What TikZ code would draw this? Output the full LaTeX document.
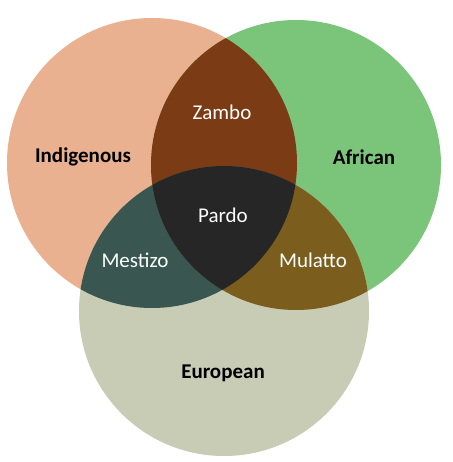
\documentclass[tikz,border=0pt]{standalone}
\usepackage{fontspec}
\setmainfont{Carlito}
\definecolor{cInd}{HTML}{E9B190}
\definecolor{cAfr}{HTML}{7BC57A}
\definecolor{cEur}{HTML}{C8CCB4}
\definecolor{cZam}{HTML}{7B3B14}
\definecolor{cMes}{HTML}{395750}
\definecolor{cMul}{HTML}{7B5E1E}
\definecolor{cPar}{HTML}{262626}
\tikzset{
  outerlabel/.style={font=\fontsize{21}{25}\selectfont\bfseries, text=black},
  innerlabel/.style={font=\fontsize{21}{25}\selectfont, text=white},
}
\begin{document}
\begin{tikzpicture}[x=1pt,y=-1pt]
\useasboundingbox[fill=white] (0,0) rectangle (452,462);
\def\rr{145}
\coordinate (cL) at (152,163);
\coordinate (cA) at (296,165);
\coordinate (cE) at (224,311);
% base circles
\fill[cInd] (cL) circle[radius=\rr];
\fill[cAfr] (cA) circle[radius=\rr];
\fill[cEur] (cE) circle[radius=\rr];
% pairwise overlaps
\begin{scope}
  \clip (cL) circle[radius=\rr];
  \fill[cZam] (cA) circle[radius=\rr];
  \fill[cMes] (cE) circle[radius=\rr];
\end{scope}
\begin{scope}
  \clip (cA) circle[radius=\rr];
  \fill[cMul] (cE) circle[radius=\rr];
\end{scope}
% triple overlap
\begin{scope}
  \clip (cL) circle[radius=\rr];
  \clip (cA) circle[radius=\rr];
  \fill[cPar] (cE) circle[radius=\rr];
\end{scope}
% labels
\node[outerlabel] (ind) at (83,157) {Indigenous};
\node[outerlabel] (afr) at (364,157) {African};
\node[outerlabel] (eur) at (223,373) {European};
\node[innerlabel] (zam) at (222,112) {Zambo};
\node[innerlabel] (par) at (223,215) {Pardo};
\node[innerlabel] (mes) at (135,260) {Mestizo};
\node[innerlabel] (mul) at (313,260) {Mulatto};
\end{tikzpicture}
\end{document}
